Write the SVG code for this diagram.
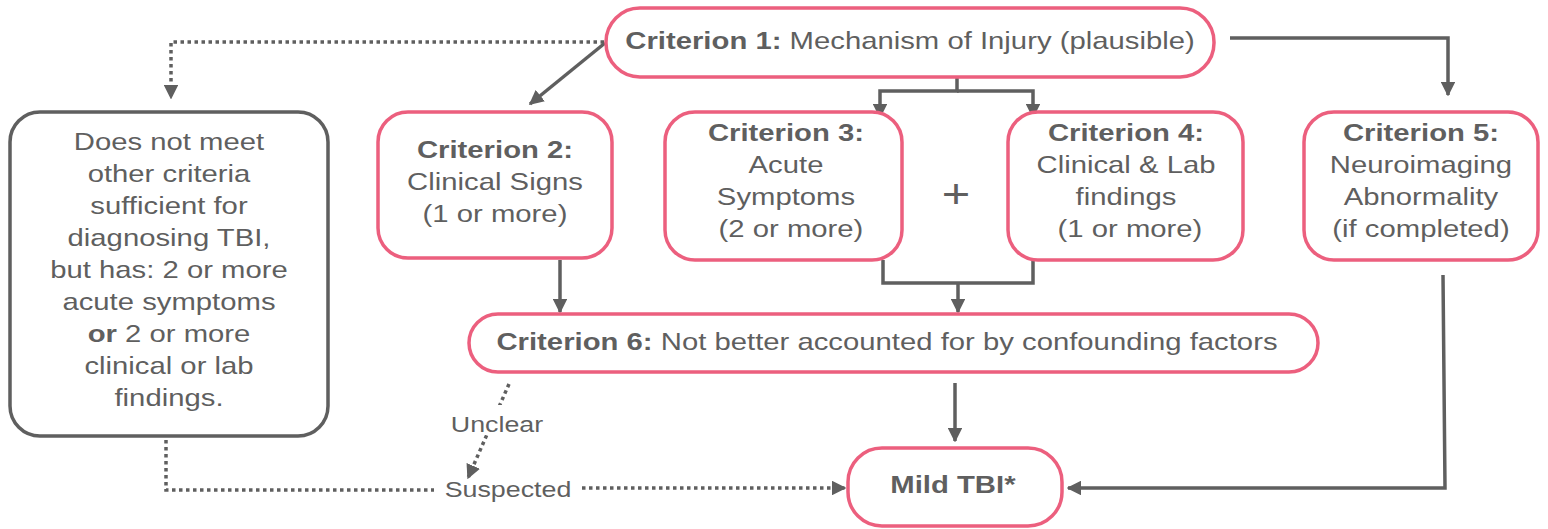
<svg xmlns="http://www.w3.org/2000/svg" width="1548" height="529" viewBox="0 0 1548 529">
<style>
.pk{fill:#fff;stroke:#ec5f7e;stroke-width:3.5}
.gy{fill:#fff;stroke:#5f5f5f;stroke-width:3.5}
text{font-family:"Liberation Sans",Arial,sans-serif;fill:#5f5f5f;font-size:24px;text-anchor:middle;transform-box:fill-box;transform-origin:center;transform:scaleX(1.22)}
.b{font-weight:bold}
.ln{fill:none;stroke:#5f5f5f;stroke-width:3.5}
.dt{fill:none;stroke:#5f5f5f;stroke-width:3.5;stroke-dasharray:3.5 3.5}
</style>
<defs>
<marker id="ah" viewBox="0 0 10 10" refX="9" refY="5" markerWidth="4.2" markerHeight="4.2" orient="auto" markerUnits="strokeWidth">
<path d="M0,0 L10,5 L0,10 z" fill="#5f5f5f"/>
</marker>
</defs>
<g id="connectors">
<path class="dt" d="M604,42 H171 V98" marker-end="url(#ah)"/>
<path class="ln" d="M605,43 L530,104" marker-end="url(#ah)"/>
<path class="ln" d="M957,77 V91 H880 V117" marker-end="url(#ah)"/>
<path class="ln" d="M957,91 H1033 V117" marker-end="url(#ah)"/>
<path class="ln" d="M1230,38 H1448 V95" marker-end="url(#ah)"/>
<path class="ln" d="M560,260 V312" marker-end="url(#ah)"/>
<path class="ln" d="M883,260 V283 H1033 V260"/>
<path class="ln" d="M958,283 V312" marker-end="url(#ah)"/>
<path class="ln" d="M955,383 V441" marker-end="url(#ah)"/>
<path class="ln" d="M1443,275 L1445,488 H1068" marker-end="url(#ah)"/>
<path class="dt" d="M166,440 V490 H434"/>
<path class="dt" d="M582,488 H845" marker-end="url(#ah)"/>
<path class="dt" d="M509,384 L468,478" marker-end="url(#ah)"/>
<rect x="449" y="405" width="96" height="30" fill="#fff"/>
<text x="497" y="432" style="font-size:22px">Unclear</text>
<text x="508" y="497" style="font-size:22px">Suspected</text>
</g>
<g id="c1">
<rect class="pk" x="606" y="8" width="608" height="69" rx="34"/>
<text x="910" y="49"><tspan class="b">Criterion 1:</tspan> Mechanism of Injury (plausible)</text>
</g>
<g id="left">
<rect class="gy" x="10" y="112" width="318" height="324" rx="30"/>
<text x="169" y="150">Does not meet</text>
<text x="169" y="182">other criteria</text>
<text x="169" y="214">sufficient for</text>
<text x="169" y="246">diagnosing TBI,</text>
<text x="169" y="278">but has: 2 or more</text>
<text x="169" y="310">acute symptoms</text>
<text x="169" y="342"><tspan class="b">or</tspan> 2 or more</text>
<text x="169" y="374">clinical or lab</text>
<text x="169" y="406">findings.</text>
</g>
<g id="c2">
<rect class="pk" x="378" y="112" width="234" height="146" rx="30"/>
<text x="495" y="158" class="b">Criterion 2:</text>
<text x="495" y="190">Clinical Signs</text>
<text x="495" y="222">(1 or more)</text>
</g>
<g id="c3">
<rect class="pk" x="665" y="112" width="237" height="148" rx="30"/>
<text x="786" y="141" class="b">Criterion 3:</text>
<text x="786" y="173">Acute</text>
<text x="786" y="205">Symptoms</text>
<text x="791" y="237">(2 or more)</text>
</g>
<text x="956" y="208" style="font-size:40px">+</text>
<g id="c4">
<rect class="pk" x="1008" y="112" width="235" height="148" rx="30"/>
<text x="1126" y="141" class="b">Criterion 4:</text>
<text x="1126" y="173">Clinical &amp; Lab</text>
<text x="1126" y="205">findings</text>
<text x="1130" y="237">(1 or more)</text>
</g>
<g id="c5">
<rect class="pk" x="1304" y="112" width="234" height="148" rx="30"/>
<text x="1421" y="141" class="b">Criterion 5:</text>
<text x="1421" y="173">Neuroimaging</text>
<text x="1421" y="205">Abnormality</text>
<text x="1421" y="237">(if completed)</text>
</g>
<g id="c6">
<rect class="pk" x="469" y="314" width="849" height="58" rx="29"/>
<text x="887" y="350"><tspan class="b">Criterion 6:</tspan> Not better accounted for by confounding factors</text>
</g>
<g id="mild">
<rect class="pk" x="848" y="448" width="214" height="78" rx="34"/>
<text x="953" y="493" class="b">Mild TBI*</text>
</g>
</svg>
